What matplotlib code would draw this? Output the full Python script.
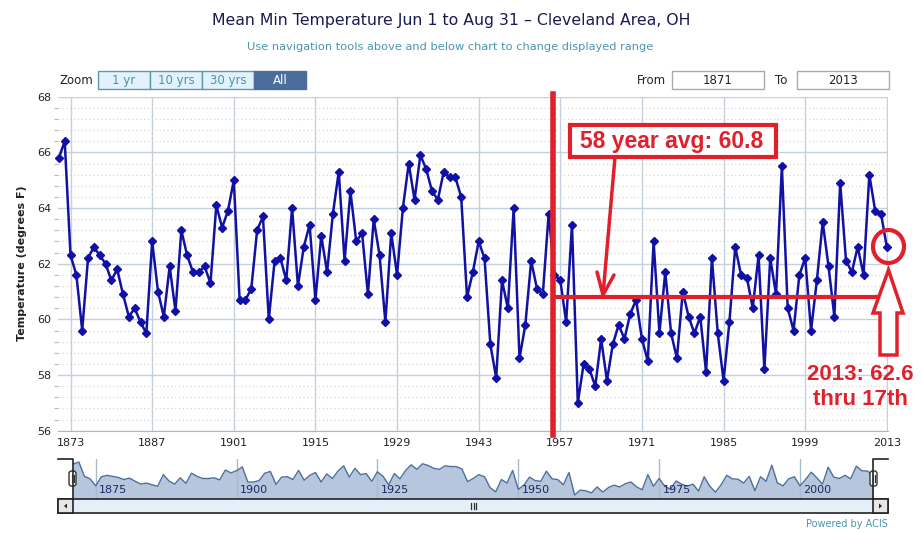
import matplotlib
matplotlib.use('Agg')
import matplotlib.pyplot as plt
from matplotlib.patches import Rectangle, FancyBboxPatch, Ellipse, Polygon
import numpy as np

# ---------------- data ----------------
years = list(range(1871, 2014))
temps = [
    65.8, 66.4, 62.3, 61.6, 59.6, 62.2, 62.6, 62.3, 62.0, 61.4,   # 1871-1880
    61.8, 60.9, 60.1, 60.4, 59.9, 59.5, 62.8, 61.0, 60.1, 61.9,   # 1881-1890
    60.3, 63.2, 62.3, 61.7, 61.7, 61.9, 61.3, 64.1, 63.3, 63.9,   # 1891-1900
    65.0, 60.7, 60.7, 61.1, 63.2, 63.7, 60.0, 62.1, 62.2, 61.4,   # 1901-1910
    64.0, 61.2, 62.6, 63.4, 60.7, 63.0, 61.7, 63.8, 65.3, 62.1,   # 1911-1920
    64.6, 62.8, 63.1, 60.9, 63.6, 62.3, 59.9, 63.1, 61.6, 64.0,   # 1921-1930
    65.6, 64.3, 65.9, 65.4, 64.6, 64.3, 65.3, 65.1, 65.1, 64.4,   # 1931-1940
    60.8, 61.7, 62.8, 62.2, 59.1, 57.9, 61.4, 60.4, 64.0, 58.6,   # 1941-1950
    59.8, 62.1, 61.1, 60.9, 63.8, 61.6, 61.4, 59.9, 63.4, 57.0,   # 1951-1960
    58.4, 58.2, 57.6, 59.3, 57.8, 59.1, 59.8, 59.3, 60.2, 60.7,   # 1961-1970
    59.3, 58.5, 62.8, 59.5, 61.7, 59.5, 58.6, 61.0, 60.1, 59.5,   # 1971-1980
    60.1, 58.1, 62.2, 59.5, 57.8, 59.9, 62.6, 61.6, 61.5, 60.4,   # 1981-1990
    62.3, 58.2, 62.2, 60.9, 65.5, 60.4, 59.6, 61.6, 62.2, 59.6,   # 1991-2000
    61.4, 63.5, 61.9, 60.1, 64.9, 62.1, 61.7, 62.6, 61.6, 65.2,   # 2001-2010
    63.9, 63.8, 62.6,                                             # 2011-2013
]
x_ticks = [1873, 1887, 1901, 1915, 1929, 1943, 1957, 1971, 1985, 1999, 2013]
y_ticks = [56, 58, 60, 62, 64, 66, 68]
nav_ticks = [1875, 1900, 1925, 1950, 1975, 2000]
avg_value = 60.8
avg_start = 1955.8
zoom_buttons = ['1 yr', '10 yrs', '30 yrs', 'All']
from_year, to_year = '1871', '2013'

title = 'Mean Min Temperature Jun 1 to Aug 31 \u2013 Cleveland Area, OH'
subtitle = 'Use navigation tools above and below chart to change displayed range'
avg_label = '58 year avg: 60.8'
last_label = '2013: 62.6\nthru 17th'

# ---------------- layout helpers ----------------
W, H = 923, 533
fig = plt.figure(figsize=(W / 100, H / 100), dpi=100)
fig.patch.set_facecolor('white')


def rect(l, t, r, b):
    return [l / W, 1 - b / H, (r - l) / W, (b - t) / H]


RED = '#e0202a'
TEAL = '#4a95ae'
GRID = '#c3d1dd'

# ---------------- main chart ----------------
ax = fig.add_axes(rect(58, 96.7, 888, 430.7))
ax.set_xlim(1870.85, 2013.2)
ax.set_ylim(56, 68)
ax.plot(years, temps, color='#1212a2', lw=1.8, marker='D', ms=4.2,
        mfc='#1010a8', mec='#1010a8', zorder=4, clip_on=False)
for s in ['top', 'left', 'right']:
    ax.spines[s].set_visible(False)
ax.spines['bottom'].set_color('#a6bacb')
ax.set_xticks(x_ticks)
ax.set_yticks(y_ticks)
ax.set_yticks(np.arange(56, 68.01, 0.4), minor=True)
ax.grid(which='major', color=GRID, lw=1)
ax.grid(which='minor', axis='y', color='#d8cfc8', lw=0.8, linestyle=(0, (1, 2.5)))
ax.set_axisbelow(True)
ax.tick_params(axis='x', length=0, pad=5, labelsize=8, labelcolor='#222222')
ax.tick_params(axis='y', which='major', length=0, pad=5, labelsize=8, labelcolor='#222222')
ax.tick_params(axis='y', which='minor', length=3, color='#b8b8b8', width=0.8)

# average line and start marker
ax.hlines(avg_value, avg_start, 2013.2, color=RED, lw=3, zorder=5)
ax.axvline(avg_start, ymin=-0.012, ymax=1.008, color=RED, lw=4, zorder=5, clip_on=False)

# ---------------- navigator ----------------
nav = fig.add_axes(rect(73.2, 459, 873.2, 499))
nav.set_xlim(1871, 2013)
nav.set_ylim(55.86, 67.25)
nav.fill_between(years, temps, 55.86, color='#b6c6dc', lw=0)
nav.plot(years, temps, color='#4e6f9c', lw=1)
nav.set_xticks(nav_ticks)
nav.set_xticklabels([])
nav.set_yticks([])
nav.grid(axis='x', color='#a9bccd', lw=1)
for s in nav.spines.values():
    s.set_visible(False)
nav.tick_params(length=0)
for yr in nav_ticks:
    nav.text(yr + 0.6, 56.9, str(yr), fontsize=8, color='#1c2860', ha='left', va='bottom')

# ---------------- overlay (decorations in pixel space) ----------------
ov = fig.add_axes([0, 0, 1, 1], zorder=10)
ov.set_xlim(0, W)
ov.set_ylim(H, 0)
ov.axis('off')
ov.patch.set_alpha(0)

# titles
ov.text(451, 20, title, ha='center', va='center', fontsize=11.3, color='#1a1a52')
ov.text(450, 47, subtitle, ha='center', va='center', fontsize=8.2, color=TEAL)

# zoom buttons
ov.text(60, 81, 'Zoom', ha='left', va='center', fontsize=8.5, color='#222222')
bx = [98, 150, 202, 254, 306]
for i, lab in enumerate(zoom_buttons):
    sel = lab == 'All'
    ov.add_patch(Rectangle((bx[i], 71), bx[i + 1] - bx[i], 18,
                           fc='#4a6d9c' if sel else '#e3f1fa',
                           ec='#4a6d9c' if sel else '#5e9aaa', lw=1))
    ov.text((bx[i] + bx[i + 1]) / 2, 80.5, lab, ha='center', va='center', fontsize=8.5,
            color='white' if sel else TEAL)

# from / to boxes
ov.text(637, 81, 'From', ha='left', va='center', fontsize=8.5, color='#222222')
ov.add_patch(Rectangle((672, 71), 92, 18, fc='white', ec='#aaaaaa', lw=1))
ov.text(718, 80.5, from_year, ha='center', va='center', fontsize=8.5, color='#222222')
ov.text(775, 81, 'To', ha='left', va='center', fontsize=8.5, color='#222222')
ov.add_patch(Rectangle((797, 71), 92, 18, fc='white', ec='#aaaaaa', lw=1))
ov.text(843, 80.5, to_year, ha='center', va='center', fontsize=8.5, color='#222222')

# y axis title
ov.text(22, 263, 'Temperature (degrees F)', rotation=90, ha='center', va='center',
        fontsize=8, fontweight='bold', color='#222222')

# average label box + arrow
ov.add_patch(Rectangle((570, 125), 206, 32, fc='white', ec=RED, lw=3, zorder=6))
ov.text(672, 141.5, avg_label, ha='center', va='center', fontsize=16.5, fontweight='bold',
        color=RED, family='Liberation Sans', zorder=7)
ov.plot([615, 603], [157, 295], color=RED, lw=2.5, solid_capstyle='round')
ov.plot([597, 603, 614], [272, 295, 275], color=RED, lw=2.5, solid_capstyle='round')

# circle around last point
ov.add_patch(Ellipse((888.5, 246.5), 31, 33, fc='none', ec=RED, lw=3))
# hollow up arrow
ov.add_patch(Polygon([(888.5, 270), (903, 313), (897, 313), (897, 355),
                      (880, 355), (880, 313), (873, 313)], closed=True,
                     fc='white', ec=RED, lw=2.5, joinstyle='miter'))
ov.text(860, 387, last_label, ha='center', va='center', fontsize=16, fontweight='bold',
        color=RED, family='Liberation Sans', linespacing=1.2)

# navigator mask outlines and handles
ov.plot([58, 73.2, 73.2], [459, 459, 499], color='#222222', lw=1.2)
ov.plot([888, 873.2, 873.2], [459, 459, 499], color='#222222', lw=1.2)
for hx in (72.5, 873.5):
    ov.add_patch(FancyBboxPatch((hx - 3.5, 471), 7, 15, boxstyle='round,pad=0,rounding_size=2.5',
                                fc='white', ec='#333333', lw=1))
    ov.plot([hx - 1, hx - 1], [475, 482], color='#333333', lw=0.8)
    ov.plot([hx + 1, hx + 1], [475, 482], color='#333333', lw=0.8)

# scrollbar
ov.add_patch(Rectangle((58, 499), 830, 14, fc='#e4eff8', ec='#222222', lw=1.2))
ov.add_patch(Rectangle((58, 499), 15, 14, fc='#e6e6e6', ec='#222222', lw=1.2))
ov.add_patch(Rectangle((873, 499), 15, 14, fc='#e6e6e6', ec='#222222', lw=1.2))
ov.add_patch(Polygon([(64, 506), (67, 503.5), (67, 508.5)], closed=True, fc='#222222', ec='none'))
ov.add_patch(Polygon([(882, 506), (879, 503.5), (879, 508.5)], closed=True, fc='#222222', ec='none'))
for gx in (471, 473.5, 476):
    ov.plot([gx, gx], [503, 509], color='#333333', lw=0.9)

# credit
ov.text(888, 524, 'Powered by ACIS', ha='right', va='center', fontsize=7, color=TEAL)

fig.savefig('out.png', dpi=100, facecolor='white')
